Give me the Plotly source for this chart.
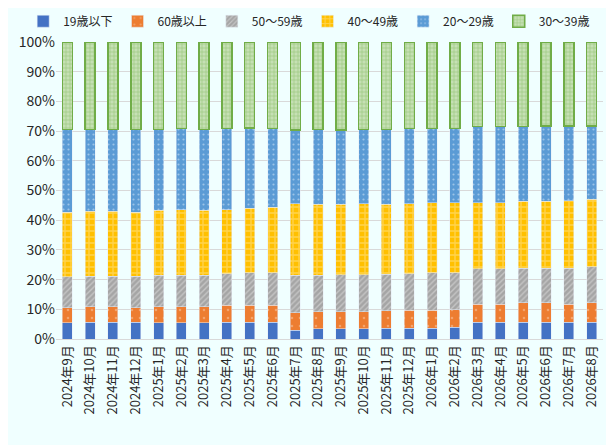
import plotly.graph_objects as go

# months on the x axis
months = ["2024年9月", "2024年10月", "2024年11月", "2024年12月",
          "2025年1月", "2025年2月", "2025年3月", "2025年4月", "2025年5月",
          "2025年6月", "2025年7月", "2025年8月", "2025年9月", "2025年10月",
          "2025年11月", "2025年12月", "2026年1月", "2026年2月", "2026年3月",
          "2026年4月", "2026年5月", "2026年6月", "2026年7月", "2026年8月"]

# shares (%), per age group
age_19 = [5.5, 5.7, 5.7, 5.7, 5.4, 5.4, 5.4, 5.7, 5.7, 5.7, 3.0, 3.4,
          3.4, 3.4, 3.7, 3.7, 3.7, 4.0, 5.7, 5.7, 5.7, 5.7, 5.7, 5.7]
age_60 = [5.0, 5.2, 5.2, 4.9, 5.5, 5.5, 5.5, 5.6, 5.6, 5.6, 5.9, 5.8,
          5.7, 5.7, 5.9, 5.9, 5.9, 5.8, 6.0, 6.0, 6.5, 6.5, 6.0, 6.5]
age_50 = [10.4, 10.3, 10.3, 10.6, 10.6, 10.6, 10.6, 10.6, 11.0, 11.0, 12.6, 12.3,
          12.4, 12.5, 12.3, 12.3, 12.7, 12.5, 11.9, 11.9, 11.7, 11.7, 12.2, 12.1]
age_40 = [21.8, 21.8, 21.8, 21.5, 21.8, 22.1, 21.8, 21.7, 21.7, 22.0, 24.1, 23.8,
          23.8, 24.0, 23.7, 23.7, 23.6, 23.6, 22.3, 22.3, 22.4, 22.4, 22.7, 22.7]
age_20 = [27.8, 27.5, 27.5, 27.8, 27.2, 27.3, 27.2, 27.3, 27.0, 26.6, 24.7, 25.2,
          24.9, 24.9, 25.3, 25.3, 25.0, 25.0, 25.6, 25.6, 25.2, 25.4, 25.1, 24.7]
age_30 = [29.5, 29.5, 29.5, 29.5, 29.5, 29.1, 29.5, 29.1, 29.0, 29.1, 29.7, 29.5,
          29.5, 29.5, 29.5, 29.1, 29.1, 29.1, 28.5, 28.5, 28.5, 28.3, 28.3, 28.3]

y_ticks = [0, 10, 20, 30, 40, 50, 60, 70, 80, 90, 100]

fig = go.Figure()

fig.add_trace(go.Bar(x=months, y=age_19, name="19歳以下",
                     marker=dict(color="#4472C4")))
fig.add_trace(go.Bar(x=months, y=age_60, name="60歳以上",
                     marker=dict(color="#ED7D31",
                                 pattern=dict(shape=".", fgcolor="#F8C9A8",
                                              size=8, solidity=0.08))))
fig.add_trace(go.Bar(x=months, y=age_50, name="50～59歳",
                     marker=dict(color="#A5A5A5",
                                 pattern=dict(shape="/", fgcolor="#E6E6E6",
                                              size=4, solidity=0.35))))
fig.add_trace(go.Bar(x=months, y=age_40, name="40～49歳",
                     marker=dict(color="#FFC000",
                                 pattern=dict(shape="+", fgcolor="#FFE699",
                                              size=6, solidity=0.4))))
fig.add_trace(go.Bar(x=months, y=age_20, name="20～29歳",
                     marker=dict(color="#5B9BD5",
                                 pattern=dict(shape=".", fgcolor="#DDEBF7",
                                              size=5, solidity=0.15))))
fig.add_trace(go.Bar(x=months, y=age_30, name="30～39歳",
                     marker=dict(color="#C5E0B4",
                                 line=dict(color="#70AD47", width=1.5),
                                 pattern=dict(shape="+", fgcolor="#70AD47",
                                              bgcolor="#C5E0B4",
                                              size=4, solidity=0.3))))

fig.update_layout(
    barmode="stack",
    barnorm="percent",
    bargap=0.56,
    width=614, height=445,
    paper_bgcolor="#F0FFFF",
    plot_bgcolor="#F0FFFF",
    # fixed margins so the legend row does not push the plot down
    margin=dict(l=48, r=19, t=34, b=114, autoexpand=False),
    font=dict(family="Noto Sans CJK JP", size=13, color="#262626"),
    legend=dict(orientation="h", x=-0.06, xanchor="left", y=1.07,
                yanchor="middle", bgcolor="rgba(0,0,0,0)",
                font=dict(size=12), traceorder="normal",
                itemwidth=30, tracegroupgap=0),
    showlegend=True,
)
fig.update_xaxes(tickangle=-90, showline=True, linecolor="#D9D9D9",
                 ticks="", tickfont=dict(size=13))
fig.update_yaxes(range=[0, 100], tickvals=y_ticks,
                 ticktext=[f"{v}%" for v in y_ticks],
                 showgrid=True, gridcolor="#D9D9D9", gridwidth=1,
                 zeroline=False, tickfont=dict(size=14))

fig.write_html("out.html")
